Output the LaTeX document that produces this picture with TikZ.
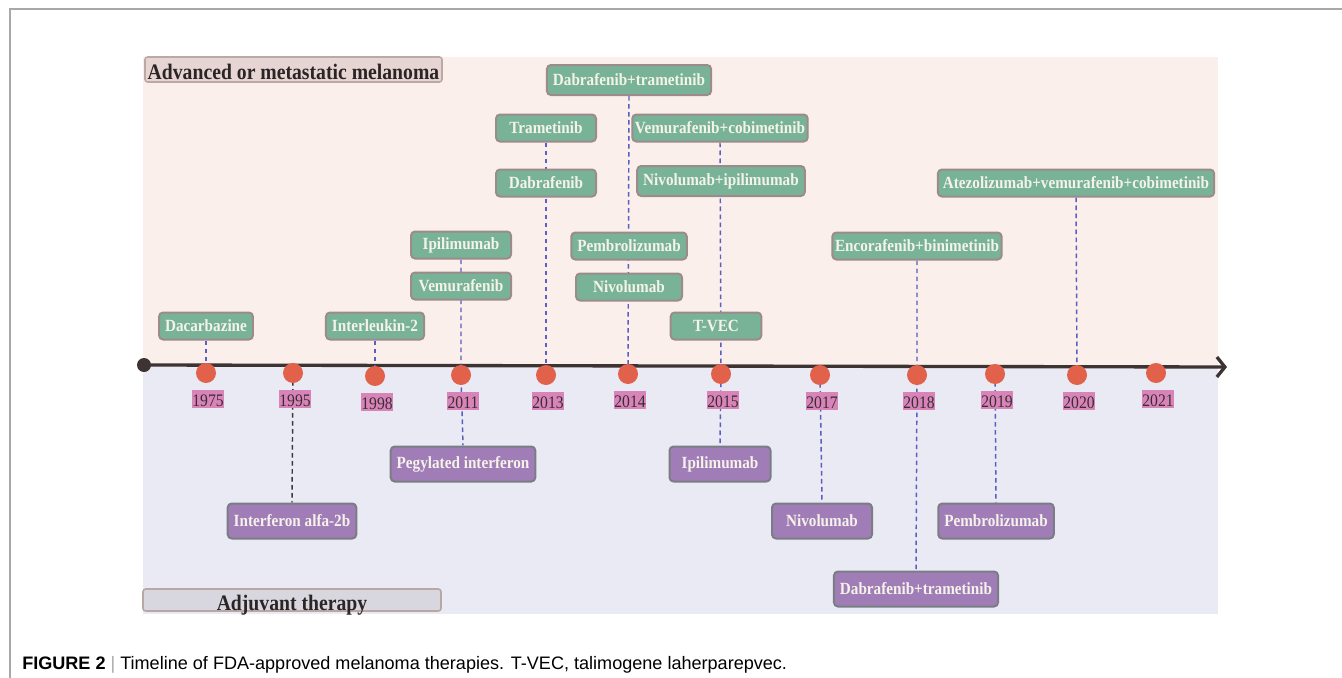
\documentclass[tikz,border=0pt]{standalone}
\usepackage{fontspec}
\setmainfont{Liberation Serif}[FakeStretch=0.89]
\setsansfont{Liberation Sans}
\usetikzlibrary{arrows.meta,positioning}
\definecolor{bandtop}{HTML}{FAEFEB}
\definecolor{bandbot}{HTML}{EAEAF4}
\definecolor{titlefill}{HTML}{E6D5D2}
\definecolor{titleline}{HTML}{BCA8A4}
\definecolor{adjfill}{HTML}{D8D6DE}
\definecolor{adjline}{HTML}{B9A7A3}
\definecolor{titletext}{HTML}{2B2525}
\definecolor{greenfill}{HTML}{79B397}
\definecolor{greenline}{HTML}{9C8A8C}
\definecolor{purplefill}{HTML}{A17DB7}
\definecolor{purpleline}{HTML}{7B7D85}
\definecolor{boxtext}{HTML}{F5F2EA}
\definecolor{dotred}{HTML}{E1614B}
\definecolor{yearpink}{HTML}{D984B8}
\definecolor{yeartext}{HTML}{3A2D35}
\definecolor{linkblue}{HTML}{5A5EC0}
\definecolor{linkdark}{HTML}{3A3A3A}
\definecolor{axisdark}{HTML}{3C3332}
\definecolor{framegray}{HTML}{A8A8A8}
\pgfdeclarelayer{bands}
\pgfdeclarelayer{links}
\pgfsetlayers{bands,links,main}
\tikzset{
    raw box/.style={rectangle, rounded corners=3pt, line width=1.5pt, align=center, inner xsep=4.5pt, inner ysep=0pt, font=\fontsize{12.8}{14}\selectfont\bfseries},
    adv box/.style={raw box, draw=greenline, fill=greenfill, text=boxtext, minimum height=20.25pt},
    adj box/.style={raw box, draw=purpleline, fill=purplefill, text=boxtext, minimum height=26.25pt},
    panel title/.style={rectangle, rounded corners=2pt, line width=1.2pt, inner sep=0pt, text=titletext, font=\fontsize{16.6}{18}\selectfont\bfseries},
    year dot/.style={circle, fill=dotred, minimum size=15pt, inner sep=0pt},
    year tag/.style={rectangle, fill=yearpink, text=yeartext, inner xsep=0.5pt, inner ysep=0pt, text height=12.75pt, text depth=0.75pt, font=\fontsize{13.2}{14}\selectfont},
    link/.style={draw=linkblue, line width=1.1pt, dash pattern=on 3.4pt off 2.6pt},
    link black/.style={link, draw=linkdark},
    axis/.style={draw=axisdark, line width=2.5pt, -{Straight Barb[length=6pt,width=15pt]}}
}
\begin{document}
\begin{tikzpicture}[x=0.75pt,y=-0.75pt]
	\useasboundingbox (0,0) rectangle (1342,678);
	% frame and the two bands
	\begin{pgfonlayer}{bands}
		\draw[framegray, line width=1.2pt] (10,678) -- (10,9) -- (1342,9);
		\fill[bandtop] (143,57) rectangle (1218,366);
		\fill[bandbot] (143,366) rectangle (1218,614);
	\end{pgfonlayer}
	\node[panel title, fill=titlefill, draw=titleline, minimum width=222.75pt, text height=17pt, text depth=1.75pt] (adv) at (293.5,69.5) {Advanced or metastatic melanoma};
	\node[panel title, fill=adjfill, draw=adjline, minimum width=223.5pt, text height=15.75pt, text depth=0.75pt] (adj) at (292,600) {Adjuvant therapy};
	% timeline
	\node[circle, fill=axisdark, minimum size=10.5pt, inner sep=0pt] (tl start) at (144,365) {};
	\coordinate (tl end) at (1227,367);
	\begin{pgfonlayer}{links}
		\draw[axis] (tl start.center) -- (tl end);
	\end{pgfonlayer}
	\foreach \yr/\px/\py in {1975/206/373, 1995/293/373, 1998/375/376, 2011/461/375, 2013/546/375, 2014/628/374,
		2015/721/374, 2017/820/375, 2018/917/375, 2019/995/374, 2020/1077/375, 2021/1156/373}{
		\node[year dot] (c\yr) at (\px,\py) {};
		\node[year tag, below=4.5pt of c\yr, xshift=1.5pt] (t\yr) {\yr};
	}
	% advanced or metastatic
	\node[adv box] (g1975) at (206,326) {Dacarbazine};
	\node[adv box] (g1998) at (375,326) {Interleukin-2};
	\node[adv box, minimum width=75pt] (g2011a) at (461,245) {Ipilimumab};
	\node[adv box, minimum width=75pt] (g2011b) at (461,286) {Vemurafenib};
	\node[adv box, minimum width=75pt] (g2013a) at (546,128) {Trametinib};
	\node[adv box, minimum width=75pt] (g2013b) at (546,183) {Dabrafenib};
	\node[adv box, minimum height=22.5pt] (g2014a) at (629,80) {Dabrafenib+trametinib};
	\node[adv box] (g2014b) at (629,246) {Pembrolizumab};
	\node[adv box, minimum width=79.5pt] (g2014c) at (629,287) {Nivolumab};
	\node[adv box, inner xsep=2pt] (g2015a) at (720,128) {Vemurafenib+cobimetinib};
	\node[adv box, minimum height=22.5pt] (g2015b) at (721,181) {Nivolumab+ipilimumab};
	\node[adv box, minimum width=68pt] (g2015c) at (716,326) {T-VEC};
	\node[adv box, inner xsep=2pt] (g2018) at (917,246) {Encorafenib+binimetinib};
	\node[adv box, inner xsep=3.75pt] (g2020) at (1076,183) {Atezolizumab+vemurafenib+cobimetinib};
	% adjuvant
	\node[adj box] (p1995) at (292,521) {Interferon alfa-2b};
	\node[adj box] (p2011) at (463,464) {Pegylated interferon};
	\node[adj box, minimum width=75.75pt] (p2015) at (720,464) {Ipilimumab};
	\node[adj box, minimum width=75pt] (p2017) at (822,521) {Nivolumab};
	\node[adj box] (p2019) at (996,521) {Pembrolizumab};
	\node[adj box] (p2018) at (916,589) {Dabrafenib+trametinib};
	\begin{pgfonlayer}{links}
		\draw[link] (g1975.south) -- (c1975.center);
		\draw[link] (g1998.south) -- (c1998.center);
		\draw[link] (g2011a.south) -- (c2011.center) -- (p2011.north);
		\draw[link] (g2013a.south) -- (c2013.center);
		\draw[link] (g2014a.south) -- (c2014.center);
		\draw[link] (g2015a.south) -- (c2015.center) -- (p2015.north);
		\draw[link] (g2018.south) -- (c2018.center) -- (p2018.north);
		\draw[link] (g2020.south) -- (c2020.center);
		\draw[link black] (c1995.center) -- (p1995.north);
		\draw[link] (c2017.center) -- (p2017.north);
		\draw[link] (c2019.center) -- (p2019.north);
	\end{pgfonlayer}
	\node[anchor=base west, inner sep=0pt, font=\sffamily\fontsize{13.55}{16}\selectfont] (caption) at (22,669)
		{\textbf{FIGURE 2}\ \textcolor{framegray}{|}\ Timeline of FDA-approved melanoma therapies. T-VEC, talimogene laherparepvec.};
\end{tikzpicture}
\end{document}
